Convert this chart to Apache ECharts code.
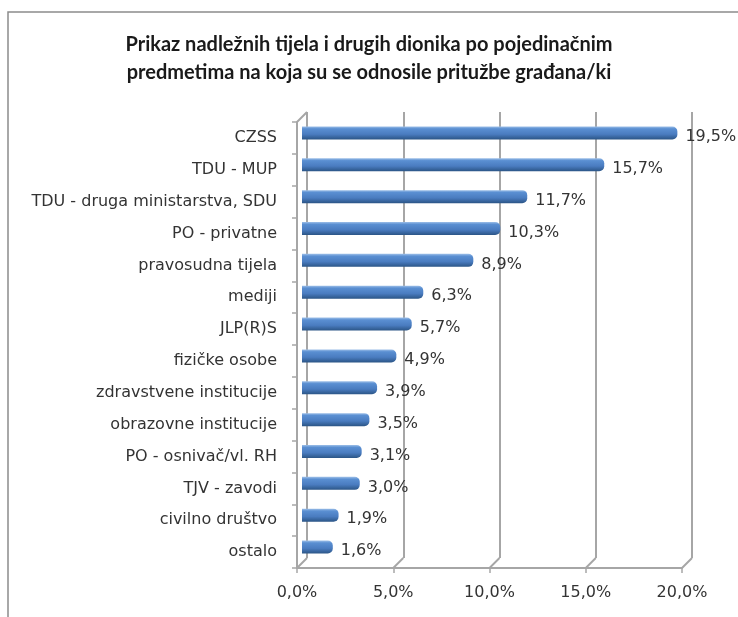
<!DOCTYPE html>
<html>
<head>
<meta charset="utf-8">
<script src="https://cdn.jsdelivr.net/npm/echarts@6/dist/echarts.min.js"></script>
<style>
  html, body { margin: 0; padding: 0; background: #fff; }
  #chart1 { width: 738px; height: 617px; }
</style>
</head>
<body>
<div id="chart1"></div>
<script>
var categories = ['CZSS', 'TDU - MUP', 'TDU - druga ministarstva, SDU', 'PO - privatne',
  'pravosudna tijela', 'mediji', 'JLP(R)S', 'fizičke osobe', 'zdravstvene institucije',
  'obrazovne institucije', 'PO - osnivač/vl. RH', 'TJV - zavodi', 'civilno društvo', 'ostalo'];
var shares = [19.5, 15.7, 11.7, 10.3, 8.9, 6.3, 5.7, 4.9, 3.9, 3.5, 3.1, 3.0, 1.9, 1.6];
var xTicks = [0, 5, 10, 15, 20];

var dom = document.getElementById('chart1');
var myChart = echarts.init(dom, null, { renderer: 'canvas' });

var txtFont = 'DejaVu Sans';
var gridColor = '#a6a6a6';
var depth = 10;

function pct(v) {
  return v.toFixed(1).replace('.', ',') + '%';
}

var option = {
  animation: false,
  title: {
    text: 'Prikaz nadležnih tijela i drugih dionika po pojedinačnim\npredmetima na koja su se odnosile pritužbe građana/ki',
    left: 'center',
    top: 26,
    textStyle: {
      fontFamily: 'Lato',
      fontWeight: 'bold',
      fontSize: 20,
      lineHeight: 28,
      color: '#1a1a1a'
    }
  },
  graphic: [{
    type: 'rect',
    shape: { x: 8, y: 12, width: 800, height: 700 },
    style: { fill: 'none', stroke: '#8c8c8c', lineWidth: 1.5 },
    silent: true
  }],
  grid: [
    // front plane: axes and labels
    { left: 297, right: 56, top: 122, bottom: 49 },
    // bars in the middle
    { left: 302, right: 51, top: 117, bottom: 54 },
    // back wall: gridlines
    { left: 307, right: 46, top: 112, bottom: 59 }
  ],
  xAxis: [
    {
      gridIndex: 0, type: 'value', min: 0, max: 20, interval: 5,
      axisLine: { show: true, lineStyle: { color: gridColor, width: 2 } },
      axisTick: { show: true, length: 5, lineStyle: { color: gridColor, width: 1.5 } },
      splitLine: { show: false },
      axisLabel: { margin: 17, color: '#333', fontFamily: txtFont, fontSize: 16, formatter: pct }
    },
    { gridIndex: 1, type: 'value', min: 0, max: 20, interval: 5, show: false },
    {
      gridIndex: 2, type: 'value', min: 0, max: 20, interval: 5,
      axisLine: { show: false }, axisTick: { show: false }, axisLabel: { show: false },
      splitLine: { show: true, lineStyle: { color: gridColor, width: 2 } }
    }
  ],
  yAxis: [
    {
      gridIndex: 0, type: 'category', inverse: true, data: categories,
      axisLine: { show: true, lineStyle: { color: gridColor, width: 2 } },
      axisTick: { show: true, length: 5, lineStyle: { color: gridColor, width: 1.5 } },
      axisLabel: { margin: 20, color: '#333', fontFamily: txtFont, fontSize: 16 }
    },
    { gridIndex: 1, type: 'category', inverse: true, data: categories, show: false },
    { gridIndex: 2, type: 'category', inverse: true, data: categories, show: false }
  ],
  series: [
    {
      type: 'bar',
      xAxisIndex: 1,
      yAxisIndex: 1,
      data: shares,
      barWidth: 13,
      itemStyle: {
        borderRadius: [0, 5, 5, 0],
        color: new echarts.graphic.LinearGradient(0, 0, 0, 1, [
          { offset: 0, color: '#9dbfe8' },
          { offset: 0.18, color: '#5a8fd2' },
          { offset: 0.6, color: '#4a7cc0' },
          { offset: 1, color: '#2b5586' }
        ])
      },
      label: {
        show: true,
        position: 'right',
        distance: 8,
        offset: [0, 4],
        color: '#333',
        fontFamily: txtFont,
        fontSize: 16,
        formatter: function (p) { return pct(p.value); }
      }
    },
    {
      // depth connectors between the front axis and the back wall
      type: 'custom',
      xAxisIndex: 0,
      yAxisIndex: 0,
      silent: true,
      data: xTicks,
      z: 1,
      renderItem: function (params, api) {
        var v = api.value(0);
        var band = api.size([0, 1])[1];
        var p = api.coord([v, categories.length - 1]);
        var y0 = p[1] + band / 2;
        var children = [{
          type: 'line',
          shape: { x1: p[0], y1: y0, x2: p[0] + depth, y2: y0 - depth },
          style: { stroke: gridColor, lineWidth: 2 }
        }];
        if (v === 0) {
          var t = api.coord([0, 0]);
          var yt = t[1] - band / 2;
          children.push({
            type: 'line',
            shape: { x1: t[0], y1: yt, x2: t[0] + depth, y2: yt - depth },
            style: { stroke: gridColor, lineWidth: 2 }
          });
        }
        return { type: 'group', children: children };
      }
    }
  ]
};

myChart.setOption(option);
window.addEventListener('resize', myChart.resize);
</script>
</body>
</html>
